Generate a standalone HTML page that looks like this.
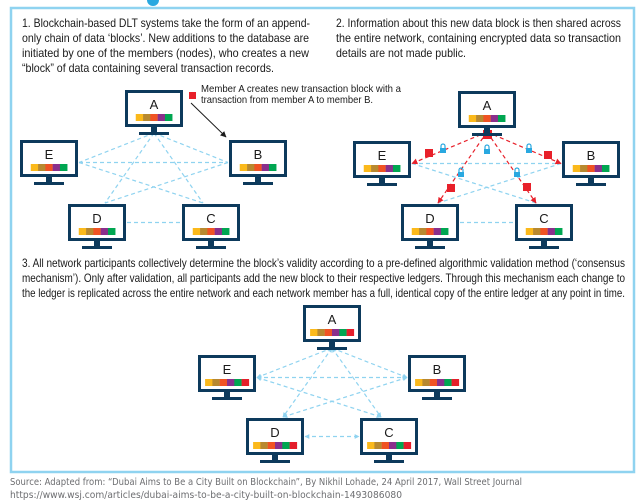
<!DOCTYPE html>
<html><head><meta charset="utf-8">
<style>
html,body{margin:0;padding:0;background:#fff;}
svg{display:block;}
.t{font-family:"Liberation Sans",sans-serif;fill:#1a1a1a;}
.src{font-family:"DejaVu Sans","Liberation Sans",sans-serif;fill:#6d6e71;font-size:10px;}
</style></head>
<body>
<svg id="s" width="642" height="503" viewBox="0 0 642 503">
<defs>
<marker id="ab" viewBox="0 0 10 10" refX="9" refY="5" markerWidth="4" markerHeight="4" orient="auto-start-reverse"><path d="M0,0L10,5L0,10z" fill="#8fd3f0"/></marker>
<marker id="ar" viewBox="0 0 10 10" refX="9" refY="5" markerWidth="5" markerHeight="5" orient="auto"><path d="M0,0L10,5L0,10z" fill="#e8202a"/></marker>
<marker id="ak" viewBox="0 0 10 10" refX="9" refY="5" markerWidth="6" markerHeight="6" orient="auto"><path d="M0,0L10,5L0,10z" fill="#1a1a1a"/></marker>
</defs>
<circle cx="153" cy="0" r="6" fill="#29a8e0"/>
<rect x="11" y="8" width="623" height="464" fill="none" stroke="#8fd3f0" stroke-width="2.5"/>

<g class="t" font-size="12">
<text x="22" y="27" textLength="288" lengthAdjust="spacingAndGlyphs">1. Blockchain-based DLT systems take the form of an append-</text>
<text x="22" y="42" textLength="287" lengthAdjust="spacingAndGlyphs">only chain of data ‘blocks’. New additions to the database are</text>
<text x="22" y="57" textLength="287" lengthAdjust="spacingAndGlyphs">initiated by one of the members (nodes), who creates a new</text>
<text x="22" y="72" textLength="252" lengthAdjust="spacingAndGlyphs">“block” of data containing several transaction records.</text>
</g>
<g class="t" font-size="12">
<text x="336" y="27" textLength="285" lengthAdjust="spacingAndGlyphs">2. Information about this new data block is then shared across</text>
<text x="336" y="42" textLength="285" lengthAdjust="spacingAndGlyphs">the entire network, containing encrypted data so transaction</text>
<text x="336" y="57" textLength="130" lengthAdjust="spacingAndGlyphs">details are not made public.</text>
</g>
<g class="t" font-size="10.5">
<rect x="189" y="92" width="7" height="7" fill="#e8202a"/>
<text x="201" y="92" textLength="200" lengthAdjust="spacingAndGlyphs">Member A creates new transaction block with a</text>
<text x="201" y="103" textLength="172" lengthAdjust="spacingAndGlyphs">transaction from member A to member B.</text>
<line x1="191" y1="103" x2="226" y2="137" stroke="#1a1a1a" stroke-width="1" marker-end="url(#ak)"/>
</g>
<g class="t" font-size="12">
<text x="22" y="267" textLength="603" lengthAdjust="spacingAndGlyphs">3. All network participants collectively determine the block’s validity according to a pre-defined algorithmic validation method (‘consensus</text>
<text x="22" y="282" textLength="603" lengthAdjust="spacingAndGlyphs">mechanism’). Only after validation, all participants add the new block to their respective ledgers. Through this mechanism each change to</text>
<text x="22" y="297" textLength="603" lengthAdjust="spacingAndGlyphs">the ledger is replicated across the entire network and each network member has a full, identical copy of the entire ledger at any point in time.</text>
</g>
<g class="src">
<text x="10" y="485" textLength="512" lengthAdjust="spacingAndGlyphs">Source: Adapted from: “Dubai Aims to Be a City Built on Blockchain”, By Nikhil Lohade, 24 April 2017, Wall Street Journal</text>
<text x="10" y="498" textLength="392" lengthAdjust="spacingAndGlyphs">https://www.wsj.com/articles/dubai-aims-to-be-a-city-built-on-blockchain-1493086080</text>
</g>
<g id="links"></g>
<g id="mons"></g>
</svg>
<script>
const NS="http://www.w3.org/2000/svg";
const labels=["A","B","C","D","E"];
const panel1=[[125,90],[229,140],[182,204],[68,204],[20,140]];
const panel2=[[458,91],[562,141],[515,204],[401,204],[353,141]];
const panel3=[[303,305],[408,355],[360,418],[246,418],[198,355]];
const stripColors=["#fbb91b","#b8892f","#f05323","#8a2f8c","#00a651","#e41e2b"];
const squareNames=["e","b","d","c"];
const squareOffsets=[[-29,62],[90,64],[-7,97],[69,96]];
const lockOffsets=[[-15,57],[29,58],[71,57],[3,81],[59,81]];
const W=58,H=37;
const mons=document.getElementById('mons'),links=document.getElementById('links');
function el(t,a,p){const e=document.createElementNS(NS,t);for(const k in a)e.setAttribute(k,a[k]);p.appendChild(e);return e;}
function monitor(p,lab,n,pi){
  const [x,y]=p;
  const g=el('g',{},mons);
  
  
  el('rect',{x:x+1.5,y:y+1.5,width:W-3,height:H-3,fill:'#fff',stroke:'#0d3a5c','stroke-width':3},g);
  el('rect',{x:x+W/2-3,y:y+H,width:6,height:5,fill:'#0d3a5c'},g);
  el('rect',{x:x+W/2-15,y:y+H+5,width:30,height:3,fill:'#0d3a5c'},g);
  const tx=el('text',{x:x+W/2,y:y+19,'text-anchor':'middle','font-size':13,'font-family':'Liberation Sans,sans-serif',fill:'#1a1a1a'},g);
  tx.textContent=lab;
  const bw=7.3,sx=x+W/2-bw*n/2;
  for(let i=0;i<n;i++)el('rect',{x:sx+i*bw,y:y+24,width:bw+0.2,height:7,fill:stripColors[i]},g);
}
function anchors(ps){
  const [A,B,C,D,E]=ps;
  return {A:[A[0]+W/2,A[1]+H+6],B:[B[0]-1,B[1]+H/2+4],C:[C[0]+W/2-8,C[1]-1],D:[D[0]+W/2+8,D[1]-1],E:[E[0]+W+1,E[1]+H/2+4],
    Cl:[C[0]-1,C[1]+H/2],Dr:[D[0]+W+1,D[1]+H/2]};
}
function line(a,b,col,attrs,name){
  const l=el('line',Object.assign({x1:a[0],y1:a[1],x2:b[0],y2:b[1],stroke:col,'stroke-width':1.2,'stroke-dasharray':'4 3'},attrs||{}),links);
  
  
}
function lock(x,y,name){
  const g=el('g',{},links);
  
  
  el('path',{d:`M${x-2},${y} v-2 a2,2 0 0 1 4,0 v2`,fill:'none',stroke:'#29a8e0','stroke-width':1.2},g);
  el('rect',{x:x-3,y:y,width:6,height:5,fill:'#29a8e0'},g);
}
const pairs=[["A","B"],["A","C"],["A","D"],["A","E"],["E","B"],["E","C"],["B","D"],["Dr","Cl"]];
const blue="#8fd3f0",red="#e8202a";
let a1=anchors(panel1);
pairs.forEach(p=>line(a1[p[0]],a1[p[1]],blue,{},'link-1-'+p.join('').toLowerCase()));
let a2=anchors(panel2);
pairs.forEach(p=>{ if(p[0]!=="A") line(a2[p[0]],a2[p[1]],blue,{},'link-2-'+p.join('').toLowerCase()); });
pairs.filter(p=>p[0]==="A").forEach(p=>{
  line([a2.A[0],a2.A[1]-2],a2[p[1]],red,{'marker-end':'url(#ar)'},'red-arrow-'+p[1].toLowerCase());
});
const ax=panel2[0][0],ay=panel2[0][1];
squareOffsets.forEach((o,i)=>{
  const sq=el('rect',{x:ax+o[0]-4,y:ay+o[1]-4,width:8,height:8,fill:red},links);
  
  
});
lockOffsets.forEach((o,i)=>lock(ax+o[0],ay+o[1],'lock-icon-'+(i+1)));
const sqA=el('rect',{x:a2.A[0]-4,y:a2.A[1]-4,width:9,height:9,fill:red},links);


let a3=anchors(panel3);
pairs.forEach(p=>line(a3[p[0]],a3[p[1]],blue,{'marker-end':'url(#ab)','marker-start':'url(#ab)'},'link-3-'+p.join('').toLowerCase()));
labels.forEach((l,i)=>{monitor(panel1[i],l,5,1);monitor(panel2[i],l,5,2);monitor(panel3[i],l,6,3);});
</script>
</body></html>
